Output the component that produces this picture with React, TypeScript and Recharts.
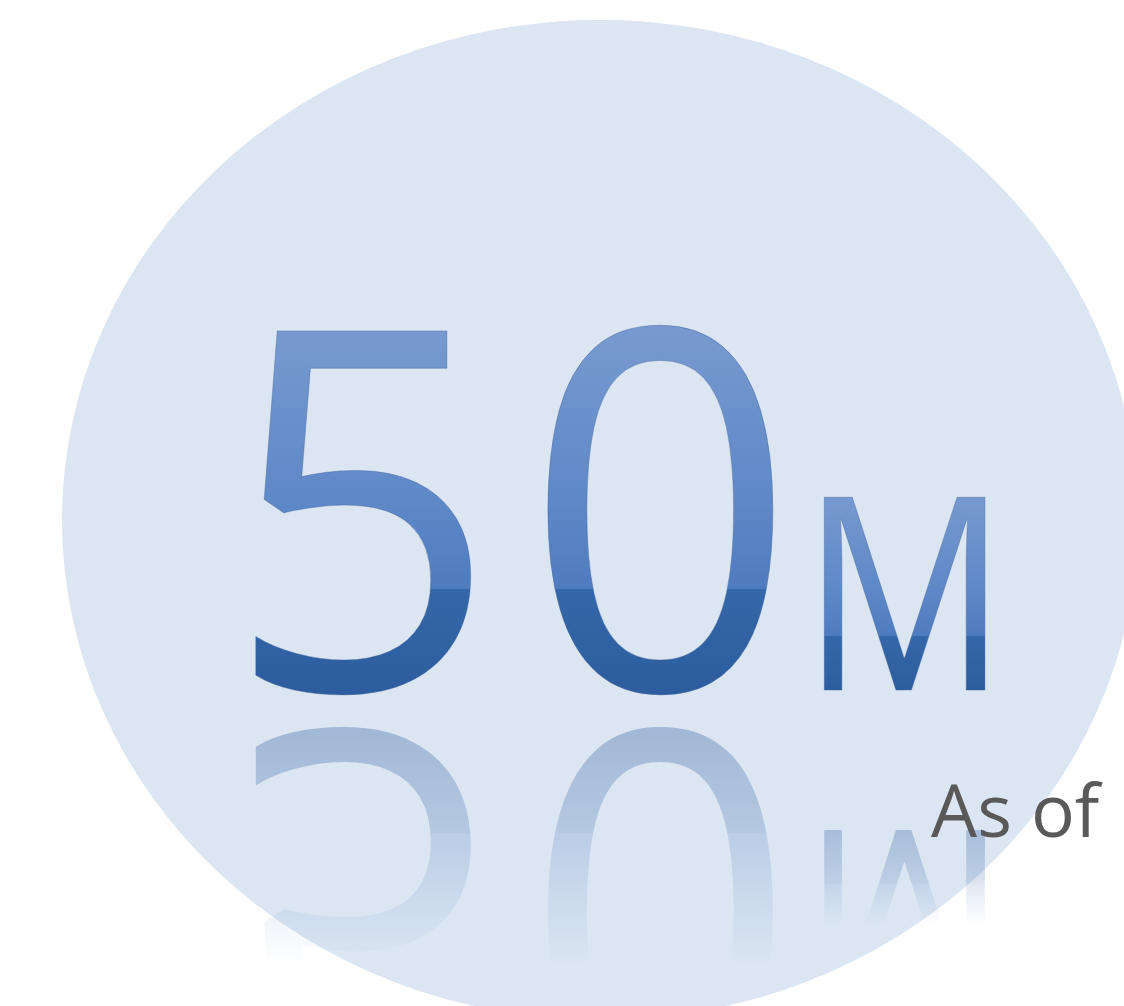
import { PieChart, Pie } from "recharts"

// one headline figure, shown as a big number on a pale disc
const metricNames = ["Members"]
const metricValues = [50]
const metricUnits = ["M"]
const footnotes = ["As of March 2013"]

const data = metricNames.map((name, i) => ({ name, value: metricValues[i] }))

const FONT = "'Open Sans', 'Noto Sans', sans-serif"

function BigNumberLabel(props: any) {
  const { cx, cy, outerRadius, value, index } = props
  const unit = metricUnits[index]
  const note = footnotes[index]

  const numSize = 503
  const unitSize = 270
  const base = cy + 170
  const numX = cx - 375
  const unitX = cx + 202
  const numTop = base - numSize * 0.714
  const unitTop = base - unitSize * 0.714
  const mirrorNum = base + 21
  const mirrorUnit = base + 70

  const glass = (id: string, y1: number, y2: number) => (
    <linearGradient id={id} gradientUnits="userSpaceOnUse" x1={0} y1={y1} x2={0} y2={y2}>
      <stop offset="0" stopColor="#7799cf" />
      <stop offset="0.45" stopColor="#6089c8" />
      <stop offset="0.72" stopColor="#4f7bbf" />
      <stop offset="0.72" stopColor="#3467a9" />
      <stop offset="1" stopColor="#2d5d9e" />
    </linearGradient>
  )

  const fade = (id: string, y1: number, y2: number, a: number) => (
    <>
      <linearGradient id={id + "-g"} gradientUnits="userSpaceOnUse" x1={0} y1={y1} x2={0} y2={y2}>
        <stop offset="0" stopColor="#fff" stopOpacity={a} />
        <stop offset="0.5" stopColor="#fff" stopOpacity={a * 0.65} />
        <stop offset="0.9" stopColor="#fff" stopOpacity={a * 0.15} />
        <stop offset="1" stopColor="#fff" stopOpacity={0} />
      </linearGradient>
      <mask id={id} maskUnits="userSpaceOnUse" x={0} y={0} width={1124} height={1006}>
        <rect x={0} y={0} width={1124} height={1006} fill={`url(#${id}-g)`} />
      </mask>
    </>
  )

  // digits are a touch narrower than Open Sans, the unit much narrower
  const numText = (stroke: boolean) => (
    <g transform={`translate(${numX} ${base}) scale(0.95 1)`}>
      <text x={0} y={0} fontFamily={FONT} fontSize={numSize} letterSpacing={27}
        fill="url(#num-fill)" stroke={stroke ? "#46679a" : "none"} strokeOpacity={0.45} strokeWidth={1}>
        {value}
      </text>
    </g>
  )
  const unitText = (stroke: boolean) => (
    <g transform={`translate(${unitX} ${base}) scale(0.845 1)`}>
      <text x={0} y={0} fontFamily={FONT} fontSize={unitSize}
        fill="url(#unit-fill)" stroke={stroke ? "#46679a" : "none"} strokeOpacity={0.45} strokeWidth={1}>
        {unit}
      </text>
    </g>
  )

  return (
    <g>
      <defs>
        <linearGradient id="num-fill" gradientUnits="userSpaceOnUse" x1={0} y1={numTop - base} x2={0} y2={0}>
          <stop offset="0" stopColor="#7799cf" />
          <stop offset="0.45" stopColor="#6089c8" />
          <stop offset="0.72" stopColor="#4f7bbf" />
          <stop offset="0.72" stopColor="#3467a9" />
          <stop offset="1" stopColor="#2d5d9e" />
        </linearGradient>
        <linearGradient id="unit-fill" gradientUnits="userSpaceOnUse" x1={0} y1={unitTop - base} x2={0} y2={0}>
          <stop offset="0" stopColor="#7799cf" />
          <stop offset="0.45" stopColor="#6089c8" />
          <stop offset="0.72" stopColor="#4f7bbf" />
          <stop offset="0.72" stopColor="#3467a9" />
          <stop offset="1" stopColor="#2d5d9e" />
        </linearGradient>
        {fade("num-refl", mirrorNum + 14, mirrorNum + 255, 0.34)}
        {fade("unit-refl", mirrorUnit + 70, mirrorUnit + 165, 0.3)}
      </defs>

      <ellipse cx={cx} cy={cy} rx={outerRadius * 1.076} ry={outerRadius} fill="#dce6f2" />

      {/* reflections */}
      <g mask="url(#num-refl)">
        <g transform={`translate(0 ${2 * mirrorNum}) scale(1 -1)`}>{numText(false)}</g>
      </g>
      <g mask="url(#unit-refl)">
        <g transform={`translate(0 ${2 * mirrorUnit}) scale(1 -1)`}>{unitText(false)}</g>
      </g>

      {numText(true)}
      {unitText(true)}

      <text x={cx + 331} y={cy + 317} fontFamily={FONT} fontSize={73} fill="#595959">
        {note}
      </text>
    </g>
  )
}

export default function App() {
  return (
    <div style={{ position: "absolute", left: 0, top: 0, width: 1124, height: 1006, overflow: "hidden", background: "#fff" }}>
      <PieChart width={1124} height={1006} margin={{ top: 0, right: 0, bottom: 0, left: 0 }}>
        <Pie
          data={data}
          dataKey="value"
          nameKey="name"
          cx={600}
          cy={520}
          innerRadius={0}
          outerRadius={500}
          startAngle={90}
          endAngle={-270}
          fill="#dce6f2"
          stroke="none"
          label={BigNumberLabel}
          labelLine={false}
          isAnimationActive={false}
        />
      </PieChart>
    </div>
  )
}
